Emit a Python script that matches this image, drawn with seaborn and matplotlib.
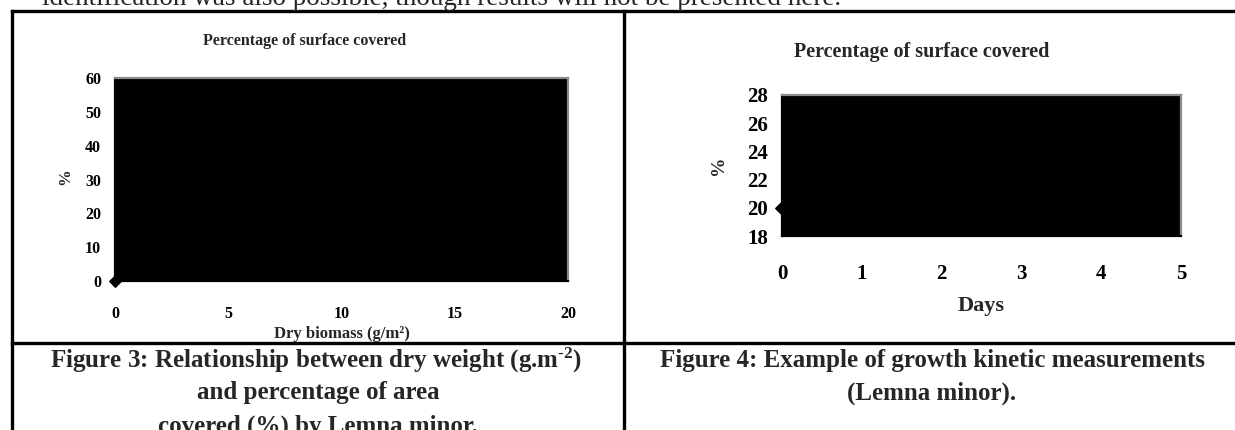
import matplotlib
matplotlib.use("Agg")
import matplotlib.pyplot as plt
import seaborn as sns
from matplotlib.lines import Line2D

# ========== data (only the points visible in the scan) ==========
biomass = [0]          # Dry biomass (g/m²)
cover_biomass = [0]    # % surface covered
days = [0]
cover_days = [20]

x_ticks_left = [0, 5, 10, 15, 20]
y_ticks_left = [0, 10, 20, 30, 40, 50, 60]
x_ticks_right = [0, 1, 2, 3, 4, 5]
y_ticks_right = [18, 20, 22, 24, 26, 28]

W, H = 1235, 430

sns.set_style("white")
plt.rcParams["font.family"] = ["Liberation Serif", "DejaVu Serif"]
plt.rcParams["font.weight"] = "bold"
plt.rcParams["mathtext.fontset"] = "custom"
plt.rcParams["mathtext.rm"] = "Liberation Serif:bold"
plt.rcParams["mathtext.default"] = "rm"

fig = plt.figure(figsize=(W / 100, H / 100), dpi=100)
fig.patch.set_facecolor("white")


def px_axes(x0, y0, x1, y1):
    return fig.add_axes([x0 / W, 1 - y1 / H, (x1 - x0) / W, (y1 - y0) / H])


# ========== page background: text line + table ==========
page = fig.add_axes([0, 0, 1, 1])
page.set_xlim(0, W)
page.set_ylim(H, 0)
page.axis("off")
page.text(42, 5, "identification was also possible, though results will not be presented here.",
          fontsize=19.5, fontweight="normal", va="baseline", ha="left")
for (xa, ya, xb, yb) in [(12, 11, W, 11), (12, 11, 12, H), (624, 11, 624, H), (12, 343, W, 343)]:
    page.add_line(Line2D([xa, xb], [ya, yb], color="black", lw=2.4, solid_capstyle="projecting"))

cap_fs = 18
page.text(316, 360, r"Figure 3: Relationship between dry weight (g.m$^{\text{-}2}$)",
          fontsize=cap_fs, ha="center", va="center")
page.text(318, 393, "and percentage of area", fontsize=cap_fs, ha="center", va="center")
page.text(318, 426, "covered (%) by Lemna minor.", fontsize=cap_fs, ha="center", va="center")
page.text(932, 360, "Figure 4: Example of growth kinetic measurements",
          fontsize=cap_fs, ha="center", va="center")
page.text(932, 393, "(Lemna minor).", fontsize=cap_fs, ha="center", va="center")


def style_axes(ax, fs, pad_x, pad_y, tick_len):
    ax.set_facecolor("black")
    for s in ["left", "bottom"]:
        ax.spines[s].set_color("black")
        ax.spines[s].set_linewidth(1.6)
    for s in ["top", "right"]:
        ax.spines[s].set_color("#8c8c8c")
        ax.spines[s].set_linewidth(1.6)
    ax.tick_params(axis="both", direction="out", length=tick_len, width=1.4,
                   colors="black", labelsize=fs)
    ax.tick_params(axis="x", pad=pad_x)
    ax.tick_params(axis="y", pad=pad_y)
    ax.grid(False)


# ========== Figure 3 ==========
x0, y0, x1, y1 = 115, 78, 568, 281
ax1 = px_axes(x0, y0, x1, y1)
sns.lineplot(x=biomass, y=cover_biomass, ax=ax1, color="black", marker="D",
             markersize=6, markeredgecolor="black", clip_on=False, zorder=5)
ax1.set_xlim(0, 20)
ax1.set_ylim(0, 60)
ax1.set_xticks(x_ticks_left)
ax1.set_yticks(y_ticks_left)
style_axes(ax1, 11.5, 12, 4, 6)
ax1.set_title("Percentage of surface covered", fontsize=11.5, fontweight="bold", pad=0,
              x=(305 - x0) / (x1 - x0), y=(y1 - 41) / (y1 - y0), va="center")
ax1.set_xlabel("Dry biomass (g/m²)", fontsize=12, fontweight="bold")
ax1.xaxis.set_label_coords(0.5, (y1 - 334) / (y1 - y0))
ax1.xaxis.label.set_va("center")
ax1.set_ylabel("%", fontsize=12, fontweight="bold")
ax1.yaxis.set_label_coords((65 - x0) / (x1 - x0), (y1 - 177) / (y1 - y0))
ax1.yaxis.label.set_va("center")

# ========== Figure 4 ==========
x0, y0, x1, y1 = 782, 95, 1181, 236
ax2 = px_axes(x0, y0, x1, y1)
sns.lineplot(x=days, y=cover_days, ax=ax2, color="black", marker="D",
             markersize=7, markeredgecolor="black", clip_on=False, zorder=5)
ax2.set_xlim(0, 5)
ax2.set_ylim(18, 28)
ax2.set_xticks(x_ticks_right)
ax2.set_yticks(y_ticks_right)
style_axes(ax2, 15, 13, 3, 7)
ax2.set_title("Percentage of surface covered", fontsize=14.5, fontweight="bold", pad=0,
              x=(922 - x0) / (x1 - x0), y=(y1 - 52) / (y1 - y0), va="center")
ax2.set_xlabel("Days", fontsize=16, fontweight="bold")
ax2.xaxis.set_label_coords(0.5, (y1 - 306) / (y1 - y0))
ax2.xaxis.label.set_va("center")
ax2.set_ylabel("%", fontsize=14, fontweight="bold")
ax2.yaxis.set_label_coords((718 - x0) / (x1 - x0), (y1 - 165) / (y1 - y0))
ax2.yaxis.label.set_va("center")

fig.savefig("out.png", dpi=100, facecolor="white")
